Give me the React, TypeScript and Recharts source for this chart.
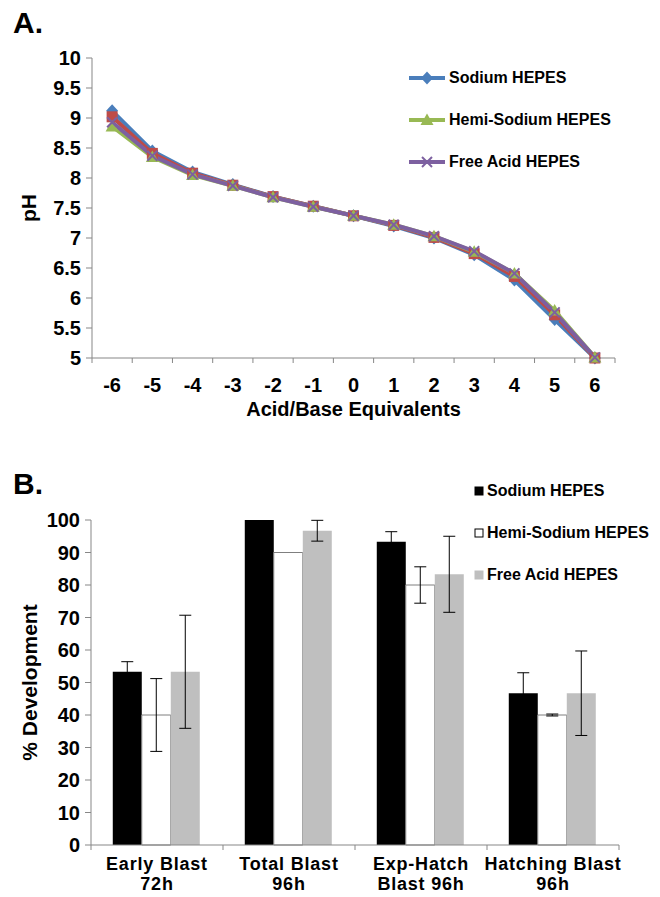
import React from "react";
import {
  Bar,
  BarChart,
  ErrorBar,
  Label,
  Legend,
  Line,
  LineChart,
  XAxis,
  YAxis,
} from "recharts";

const FONT = '"Liberation Sans", Arial, Helvetica, sans-serif';
const AXIS_GREY = "#878787";

// ---- Panel A: titration curves ----
const equivalents = ["-6", "-5", "-4", "-3", "-2", "-1", "0", "1", "2", "3", "4", "5", "6"];
const sodiumPH = [9.12, 8.45, 8.1, 7.89, 7.69, 7.53, 7.37, 7.2, 7.0, 6.72, 6.3, 5.64, 5.0];
const squarePH = [9.02, 8.41, 8.08, 7.88, 7.69, 7.53, 7.37, 7.21, 7.01, 6.74, 6.36, 5.72, 5.0];
const hemiPH = [8.86, 8.35, 8.05, 7.87, 7.68, 7.52, 7.37, 7.22, 7.03, 6.77, 6.41, 5.79, 5.01];
const freeAcidPH = [8.93, 8.37, 8.06, 7.87, 7.68, 7.52, 7.37, 7.22, 7.03, 6.78, 6.41, 5.76, 5.01];
const phTicks = [5, 5.5, 6, 6.5, 7, 7.5, 8, 8.5, 9, 9.5, 10];

// ---- Panel B: embryo development ----
const stages = ["Early Blast 72h", "Total Blast 96h", "Exp-Hatch Blast 96h", "Hatching Blast 96h"];
const stageTickLines = [
  ["Early Blast", "72h"],
  ["Total Blast", "96h"],
  ["Exp-Hatch", "Blast 96h"],
  ["Hatching Blast", "96h"],
];
const sodiumDev = [53.3, 100, 93.3, 46.7];
const sodiumErr = [3.1, 0, 3.1, 6.3];
const hemiDev = [40, 90, 80, 40];
const hemiErr = [11.2, 0, 5.6, 0.3];
const freeAcidDev = [53.3, 96.7, 83.3, 46.7];
const freeAcidErr = [17.4, 3.2, 11.7, 13];
const devTicks = [0, 10, 20, 30, 40, 50, 60, 70, 80, 90, 100];

const dataA = equivalents.map((eq, i) => ({
  eq,
  sodium: sodiumPH[i],
  square: squarePH[i],
  hemi: hemiPH[i],
  freeAcid: freeAcidPH[i],
}));

const dataB = stages.map((stage, i) => ({
  stage,
  sodium: sodiumDev[i],
  sodiumErr: sodiumErr[i],
  hemi: hemiDev[i],
  hemiErr: hemiErr[i],
  freeAcid: freeAcidDev[i],
  freeAcidErr: freeAcidErr[i],
}));

const seriesA = [
  { key: "sodium", name: "Sodium HEPES", color: "#4A7EBB", shape: "diamond", legend: true },
  { key: "square", name: "", color: "#BE4B48", shape: "square", legend: false },
  { key: "hemi", name: "Hemi-Sodium HEPES", color: "#98B954", shape: "triangle", legend: true },
  { key: "freeAcid", name: "Free Acid HEPES", color: "#7D60A0", shape: "cross", legend: true },
];

const seriesB = [
  { key: "sodium", name: "Sodium HEPES", fill: "#000000", stroke: "none" },
  { key: "hemi", name: "Hemi-Sodium HEPES", fill: "#ffffff", stroke: "#7f7f7f" },
  { key: "freeAcid", name: "Free Acid HEPES", fill: "#bfbfbf", stroke: "none" },
];

// layout
const W = 660;
const A_H = 430;
const A_MARGIN = { top: 58, right: 45, left: 0, bottom: 0 };
const A_YW = 92;
const A_HALF_BAND = (W - A_YW - A_MARGIN.right) / equivalents.length / 2;

const B_TOP = 440;
const B_H = 457;
const B_MARGIN = { top: 80, right: 41, left: 0, bottom: 0 };
const B_YW = 91;
const B_HALF_BAND = (W - B_YW - B_MARGIN.right) / stages.length / 2;

const tickFont = { fontFamily: FONT, fontWeight: 700, fontSize: 20, fill: "#000" };
const stageFont = { ...tickFont, fontSize: 18, letterSpacing: 0.8 };

function Marker({ shape, cx, cy, color }: any) {
  if (shape === "diamond")
    return (
      <polygon
        points={`${cx},${cy - 6.5} ${cx + 6},${cy} ${cx},${cy + 6.5} ${cx - 6},${cy}`}
        fill={color}
      />
    );
  if (shape === "square")
    return <rect x={cx - 5.5} y={cy - 5.5} width={11} height={11} fill={color} />;
  if (shape === "triangle")
    return (
      <polygon
        points={`${cx},${cy - 6.5} ${cx + 6.5},${cy + 5} ${cx - 6.5},${cy + 5}`}
        fill={color}
      />
    );
  return (
    <g stroke={color} strokeWidth={2}>
      <line x1={cx - 5} y1={cy - 5} x2={cx + 5} y2={cy + 5} />
      <line x1={cx - 5} y1={cy + 5} x2={cx + 5} y2={cy - 5} />
    </g>
  );
}

function EquivTick({ x, y, payload, index }: any) {
  const last = index === equivalents.length - 1;
  return (
    <g>
      <line x1={x - A_HALF_BAND} x2={x - A_HALF_BAND} y1={y} y2={y + 5} stroke={AXIS_GREY} />
      {last && (
        <line x1={x + A_HALF_BAND} x2={x + A_HALF_BAND} y1={y} y2={y + 5} stroke={AXIS_GREY} />
      )}
      <text x={x} y={y + 27} dy="0.36em" textAnchor="middle" {...tickFont}>
        {payload.value}
      </text>
    </g>
  );
}

function StageTick({ x, y, index }: any) {
  const last = index === stages.length - 1;
  const [l1, l2] = stageTickLines[index] || ["", ""];
  return (
    <g>
      <line x1={x - B_HALF_BAND} x2={x - B_HALF_BAND} y1={y} y2={y + 5} stroke={AXIS_GREY} />
      {last && (
        <line x1={x + B_HALF_BAND} x2={x + B_HALF_BAND} y1={y} y2={y + 5} stroke={AXIS_GREY} />
      )}
      <text x={x} y={y + 19} dy="0.36em" textAnchor="middle" {...stageFont}>
        {l1}
      </text>
      <text x={x} y={y + 39} dy="0.36em" textAnchor="middle" {...stageFont}>
        {l2}
      </text>
    </g>
  );
}

function axisTitle(text: string, kind: "x" | "y", offset: number) {
  return (props: any) => {
    const vb = props.viewBox || {};
    const style = { fontFamily: FONT, fontWeight: 700, fill: "#000" };
    if (kind === "x") {
      return (
        <text
          x={vb.x + vb.width / 2}
          y={vb.y + offset}
          dy="0.36em"
          textAnchor="middle"
          fontSize={20}
          {...style}
        >
          {text}
        </text>
      );
    }
    const cy = vb.y + vb.height / 2;
    return (
      <text
        x={offset}
        y={cy}
        dy="0.36em"
        textAnchor="middle"
        fontSize={21}
        transform={`rotate(-90, ${offset}, ${cy})`}
        {...style}
      >
        {text}
      </text>
    );
  };
}

function LegendA() {
  return (
    <div style={{ fontFamily: FONT, fontWeight: 700, fontSize: 16, color: "#000" }}>
      {seriesA
        .filter((s) => s.legend)
        .map((s) => (
          <div key={s.key} style={{ display: "flex", alignItems: "center", height: 42 }}>
            <svg width={36} height={14} style={{ overflow: "visible" }}>
              <line x1={0} x2={36} y1={7} y2={7} stroke={s.color} strokeWidth={4} />
              <Marker shape={s.shape} cx={18} cy={7} color={s.color} />
            </svg>
            <span style={{ marginLeft: 4, whiteSpace: "nowrap" }}>{s.name}</span>
          </div>
        ))}
    </div>
  );
}

function LegendB() {
  return (
    <div style={{ fontFamily: FONT, fontWeight: 700, fontSize: 16, color: "#000" }}>
      {seriesB.map((s) => (
        <div key={s.key} style={{ display: "flex", alignItems: "center", height: 42 }}>
          <svg width={10} height={10}>
            <rect
              x={1}
              y={1}
              width={8}
              height={8}
              fill={s.fill}
              stroke={s.stroke === "none" ? s.fill : "#000"}
              strokeWidth={1}
            />
          </svg>
          <span style={{ marginLeft: 3, whiteSpace: "nowrap" }}>{s.name}</span>
        </div>
      ))}
    </div>
  );
}

function PanelLetter({ text, top }: { text: string; top: number }) {
  return (
    <div
      style={{
        position: "absolute",
        left: 13,
        top,
        fontFamily: FONT,
        fontWeight: 700,
        fontSize: 30,
        lineHeight: 1,
        color: "#000",
      }}
    >
      {text}
    </div>
  );
}

export default function App() {
  return (
    <div style={{ position: "absolute", left: 0, top: 0, width: W, height: 897, background: "#fff" }}>
      <PanelLetter text="A." top={8} />
      <div style={{ position: "absolute", left: 0, top: 0 }}>
        <LineChart width={W} height={A_H} data={dataA} margin={A_MARGIN}>
          <XAxis
            dataKey="eq"
            type="category"
            padding={{ left: A_HALF_BAND, right: A_HALF_BAND }}
            height={A_H - 358}
            stroke={AXIS_GREY}
            tickLine={false}
            tickSize={0}
            tickMargin={0}
            interval={0}
            tick={<EquivTick />}
          >
            <Label content={axisTitle("Acid/Base Equivalents", "x", 51)} />
          </XAxis>
          <YAxis
            type="number"
            domain={[5, 10]}
            ticks={phTicks}
            interval={0}
            width={A_YW}
            stroke={AXIS_GREY}
            tickSize={6}
            tickMargin={5}
            tick={tickFont}
          >
            <Label content={axisTitle("pH", "y", 28)} />
          </YAxis>
          <Legend
            layout="vertical"
            align="center"
            verticalAlign="middle"
            content={<LegendA />}
            wrapperStyle={{ top: 57, left: 409, width: "auto" }}
          />
          {seriesA.map((s) => (
            <Line
              key={s.key}
              type="linear"
              dataKey={s.key}
              stroke={s.color}
              strokeWidth={4}
              isAnimationActive={false}
              activeDot={false}
              dot={(p: any) => (
                <Marker
                  key={`${s.key}-${p.index}`}
                  shape={s.shape}
                  cx={p.cx}
                  cy={p.cy}
                  color={s.color}
                />
              )}
            />
          ))}
        </LineChart>
      </div>

      <PanelLetter text="B." top={469} />
      <div style={{ position: "absolute", left: 0, top: B_TOP }}>
        <BarChart
          width={W}
          height={B_H}
          data={dataB}
          margin={B_MARGIN}
          barGap={0}
          barCategoryGap="16.5%"
        >
          <XAxis
            dataKey="stage"
            type="category"
            height={B_H - B_MARGIN.top - 325}
            stroke={AXIS_GREY}
            tickLine={false}
            tickSize={0}
            tickMargin={0}
            interval={0}
            tick={<StageTick />}
          />
          <YAxis
            type="number"
            domain={[0, 100]}
            ticks={devTicks}
            interval={0}
            width={B_YW}
            stroke={AXIS_GREY}
            tickSize={6}
            tickMargin={5}
            tick={tickFont}
          >
            <Label content={axisTitle("% Development", "y", 29)} />
          </YAxis>
          <Legend
            layout="vertical"
            align="center"
            verticalAlign="middle"
            content={<LegendB />}
            wrapperStyle={{ top: 30, left: 474, width: "auto" }}
          />
          {seriesB.map((s) => (
            <Bar
              key={s.key}
              dataKey={s.key}
              fill={s.fill}
              stroke={s.stroke}
              strokeWidth={1}
              isAnimationActive={false}
            >
              <ErrorBar
                dataKey={`${s.key}Err`}
                width={6}
                stroke="#000"
                strokeWidth={1}
                isAnimationActive={false}
              />
            </Bar>
          ))}
        </BarChart>
      </div>
    </div>
  );
}
